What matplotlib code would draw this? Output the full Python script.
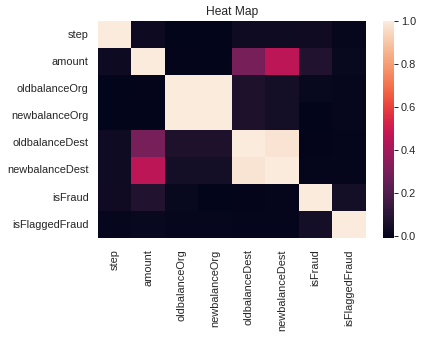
import numpy as np
import pandas as pd
import matplotlib
matplotlib.use("Agg")
import matplotlib.pyplot as plt
import seaborn as sns

labels = ["step", "amount", "oldbalanceOrg", "newbalanceOrg",
          "oldbalanceDest", "newbalanceDest", "isFraud", "isFlaggedFraud"]

step = [1.0, 0.0224, -0.0101, -0.0103, 0.0277, 0.0259, 0.0316, 0.0033]
amount = [0.0224, 1.0, -0.0028, -0.0079, 0.2941, 0.4593, 0.0767, 0.0123]
old_org = [-0.0101, -0.0028, 1.0, 0.9988, 0.0662, 0.0420, 0.0102, 0.0038]
new_org = [-0.0103, -0.0079, 0.9988, 1.0, 0.0678, 0.0418, -0.0081, 0.0038]
old_dest = [0.0277, 0.2941, 0.0662, 0.0678, 1.0, 0.9766, -0.0059, -0.0005]
new_dest = [0.0259, 0.4593, 0.0420, 0.0418, 0.9766, 1.0, 0.0005, -0.0005]
is_fraud = [0.0316, 0.0767, 0.0102, -0.0081, -0.0059, 0.0005, 1.0, 0.0441]
is_flagged = [0.0033, 0.0123, 0.0038, 0.0038, -0.0005, -0.0005, 0.0441, 1.0]

corr = pd.DataFrame([step, amount, old_org, new_org, old_dest, new_dest,
                     is_fraud, is_flagged], index=labels, columns=labels)

sns.set_theme()
plt.rcParams['font.family'] = ['Liberation Sans', 'DejaVu Sans']

fig = plt.figure(figsize=(425 / 72, 337 / 72), dpi=72)
ax = fig.add_axes([97.7 / 425, 1 - 238.3 / 337, 268.3 / 425, 217.3 / 337])
cax = fig.add_axes([383.3 / 425, 1 - 238.3 / 337, 10.7 / 425, 217.3 / 337])

sns.heatmap(corr, ax=ax, cbar_ax=cax)
ax.set_title("Heat Map", fontsize=12, color=".15")
ax.tick_params(axis="y", length=0, labelsize=11, pad=9)
ax.tick_params(axis="x", length=0, labelsize=11, pad=11)
cax.tick_params(length=3.5, width=1, color=".15", labelsize=11)
cax.yaxis.set_ticks([0.0, 0.2, 0.4, 0.6, 0.8, 1.0])

fig.savefig("out.png", dpi=72)
